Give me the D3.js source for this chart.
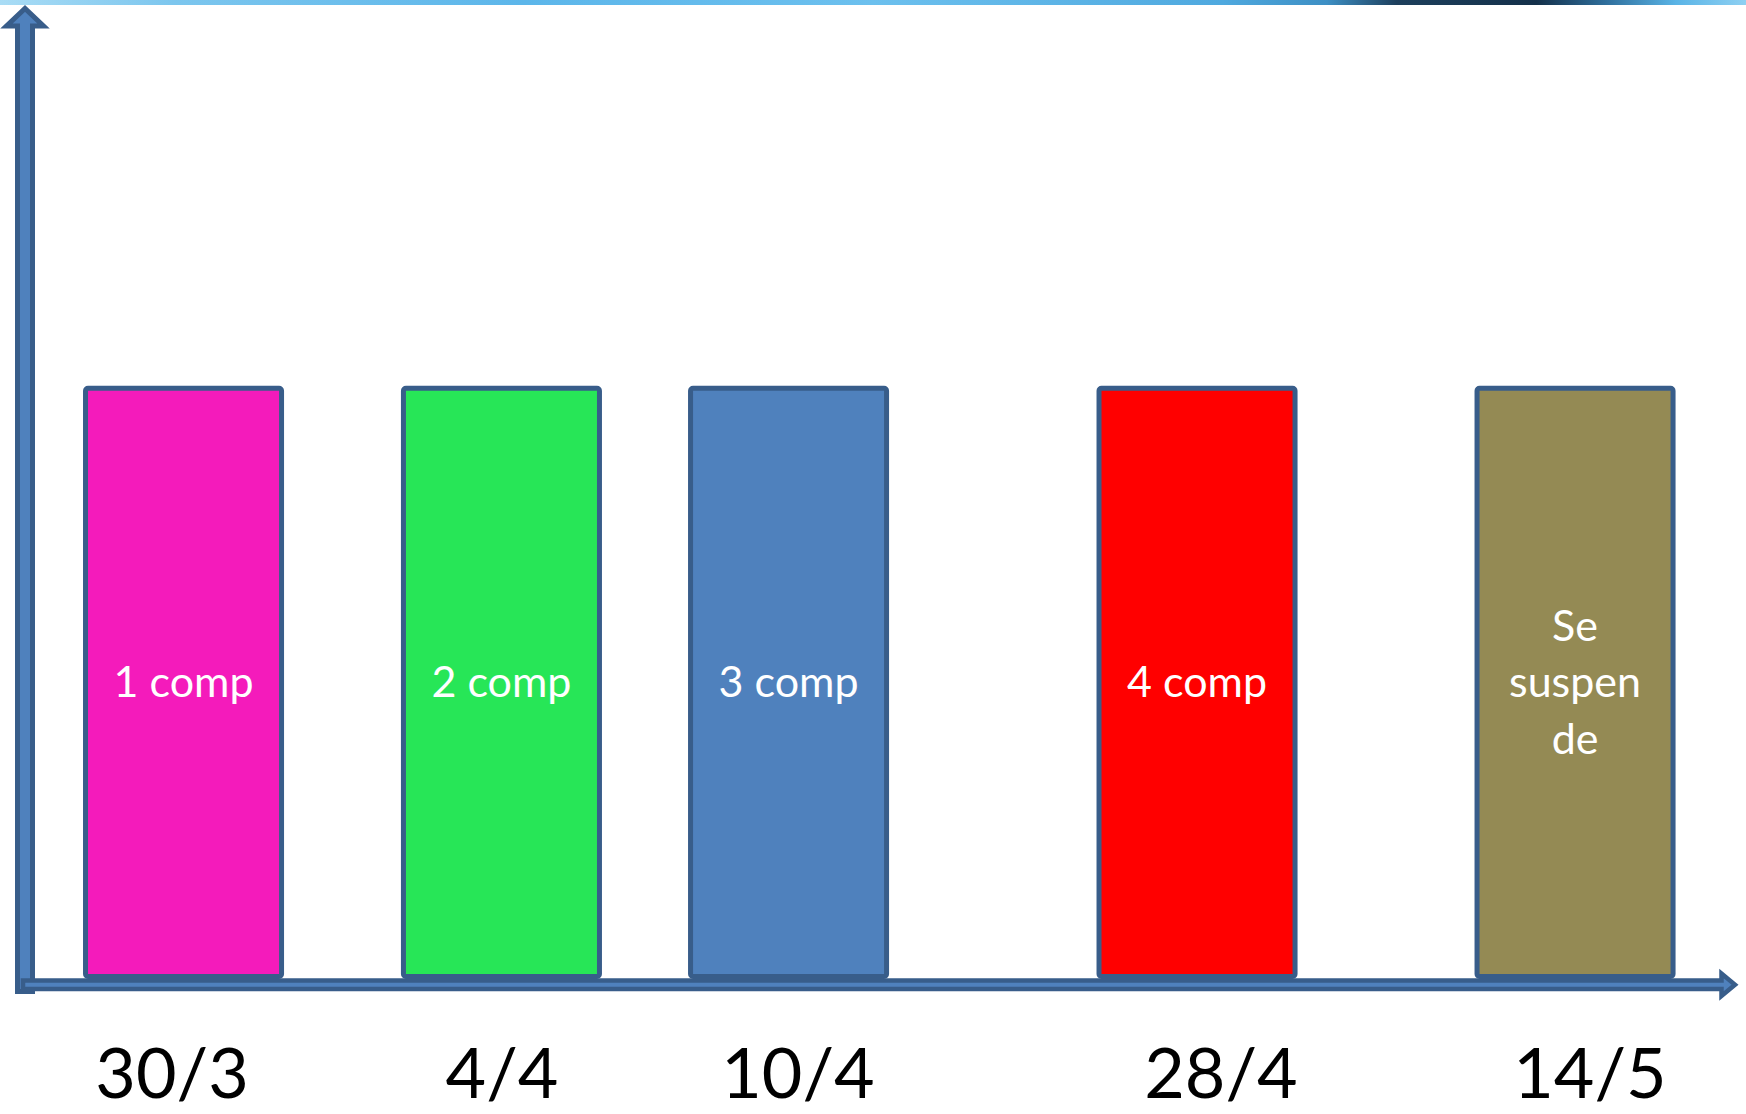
<!DOCTYPE html>
<html>
<head>
<meta charset="utf-8">
<script src="https://cdn.jsdelivr.net/npm/d3@7/dist/d3.min.js"></script>
<style>
  html, body { margin: 0; padding: 0; background: #ffffff; }
  svg { display: block; }
</style>
</head>
<body>
<svg id="chart" width="1746" height="1114"></svg>
<script>
// ---- data ----
const dates = ["30/3", "4/4", "10/4", "28/4", "14/5"];
const barLabels = [["1 comp"], ["2 comp"], ["3 comp"], ["4 comp"], ["Se", "suspen", "de"]];
const values = [1, 1, 1, 1, 1];
// position of each bar / date label along the horizontal axis (axis units 0-100)
const barPositions = [9.26, 27.83, 44.60, 68.46, 90.54];
const datePositions = [8.59, 27.86, 45.15, 69.86, 91.41];
const barColors = ["#f41bbb", "#27e657", "#4f81bd", "#ff0000", "#948a54"];

// ---- layout ----
const W = 1746, H = 1114;
const svg = d3.select("#chart");
const x = d3.scaleLinear().domain([0, 100]).range([25, 1737]);
const y = d3.scaleLinear().domain([0, 1.65]).range([976.5, 6]);
const barWidthUnits = 11.45;
const barW = x(barWidthUnits) - x(0);
const outline = "#385d8a";
const axisFill = "#4f81bd";

// top decorative strip
const defs = svg.append("defs");
const grad = defs.append("linearGradient").attr("id", "topStrip").attr("x1", "0").attr("x2", "1").attr("y1", "0").attr("y2", "0");
[
  [0, "#a9dcf5"], [0.1, "#7cc6ee"], [0.3, "#5cb6ea"], [0.5, "#6cc0ee"], [0.7, "#4fa9df"],
  [0.76, "#3d8fc4"], [0.8, "#1d3f5c"], [0.88, "#14304a"], [0.92, "#2f6f9c"], [0.96, "#5ab4e6"], [1, "#8ed0f2"]
].forEach(s => grad.append("stop").attr("offset", s[0]).attr("stop-color", s[1]));
svg.append("rect").attr("x", 0).attr("y", 0).attr("width", W).attr("height", 5).attr("fill", "url(#topStrip)");

// y axis (block arrow)
svg.append("path")
  .attr("d", `M17.5,991.5 L17.5,26 L6.5,26 L25,8.5 L43.5,26 L32.5,26 L32.5,991.5 Z`)
  .attr("fill", axisFill).attr("stroke", outline).attr("stroke-width", 5).attr("stroke-linejoin", "miter");

// bars
const bars = svg.append("g");
bars.selectAll("rect").data(values).join("rect")
  .attr("x", (d, i) => x(barPositions[i]) - barW / 2)
  .attr("y", d => y(d))
  .attr("width", barW)
  .attr("height", d => y(0) - y(d))
  .attr("rx", 2.5).attr("ry", 2.5)
  .attr("fill", (d, i) => barColors[i])
  .attr("stroke", outline).attr("stroke-width", 5);

// bar labels
const lineH = 56.5;
bars.selectAll("text").data(values).join("text")
  .attr("text-anchor", "middle")
  .attr("font-family", "Lato, 'Open Sans', sans-serif")
  .attr("font-size", 43)
  .attr("fill", "#ffffff")
  .each(function (d, i) {
    const lines = barLabels[i];
    const cx = x(barPositions[i]);
    const cy = (y(d) + y(0)) / 2;
    const t = d3.select(this);
    lines.forEach((ln, k) => {
      t.append("tspan")
        .attr("x", cx)
        .attr("y", cy + 15 + (k - (lines.length - 1) / 2) * lineH)
        .text(ln);
    });
  });

// x axis (block arrow)
svg.append("path")
  .attr("d", `M23,980.5 L1721.5,980.5 L1721.5,973.5 L1735,984.75 L1721.5,996 L1721.5,989 L23,989 Z`)
  .attr("fill", axisFill).attr("stroke", outline).attr("stroke-width", 4.5).attr("stroke-linejoin", "miter");

// date labels
svg.append("g").selectAll("text").data(dates).join("text")
  .attr("x", (d, i) => x(datePositions[i]))
  .attr("y", 1098)
  .attr("text-anchor", "middle")
  .attr("font-family", "Lato, 'Open Sans', sans-serif")
  .attr("font-size", 70)
  .attr("fill", "#000000")
  .text(d => d);
</script>
</body>
</html>
